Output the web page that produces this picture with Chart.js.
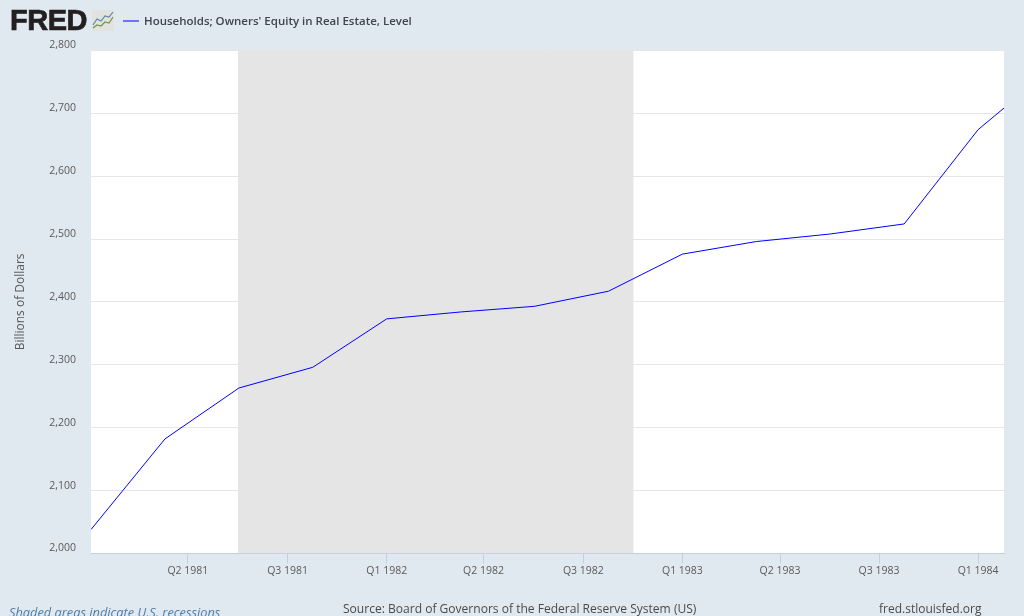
<!DOCTYPE html>
<html lang="en">
<head>
  <meta charset="UTF-8">
  <title>Households; Owners' Equity in Real Estate, Level</title>
  <script src="https://cdn.jsdelivr.net/npm/chart.js"></script>
  <style>
    html, body { margin: 0; padding: 0; width: 1024px; height: 616px; overflow: hidden; background: #e1e9f0; }
    body { position: relative; font-family: "Open Sans", sans-serif; }
    #chart { position: absolute; left: 0; top: 0; }
    .txt { position: absolute; white-space: nowrap; }
    #logo { left: 10px; top: 0px; font-family: "Liberation Sans", sans-serif; font-size: 29px; line-height: 41px; font-weight: 700; color: #231f20; letter-spacing: -0.5px; -webkit-text-stroke: 0.7px #231f20; }
    #icon { position: absolute; left: 92px; top: 10px; }
    #swatch { position: absolute; left: 123px; top: 20px; width: 16px; height: 2px; background: #7070ff; }
    #title { left: 144px; top: 12px; font-size: 11.5px; line-height: 17px; font-weight: 600; color: #3f4450; }
    #note { left: 9px; top: 604px; font-size: 12.8px; line-height: 16px; font-style: italic; color: #4d7ea8; }
    #source { left: 343px; top: 600px; font-size: 12.05px; line-height: 17px; color: #4a4a4a; }
    #site { left: 879px; top: 600px; font-size: 12px; line-height: 17px; color: #4a4a4a; }
  </style>
</head>
<body>

<canvas id="chart" width="1024" height="616"></canvas>

<div class="txt" id="logo">FRED</div>
<svg id="icon" width="22" height="21" viewBox="0 0 22 21">
  <rect width="22" height="21" rx="2" fill="#e2e2de"/>
  <polyline points="1,18 5,15 9,16 13,12 17,13 21,7" fill="none" stroke="#6f9a4a" stroke-width="1.2"/>
  <polyline points="1,15 5,9 9,11 13,6 17,7 21,2" fill="none" stroke="#5f86a8" stroke-width="1.2"/>
</svg>
<div id="swatch"></div>
<div class="txt" id="title">Households; Owners' Equity in Real Estate, Level</div>
<div class="txt" id="note">Shaded areas indicate U.S. recessions</div>
<div class="txt" id="source">Source: Board of Governors of the Federal Reserve System (US)</div>
<div class="txt" id="site">fred.stlouisfed.org</div>

<script>
// x is counted in quarters since Q1 1981
var quarters = [0, 1, 2, 3, 4, 5, 6, 7, 8, 9, 10, 11, 12, 13];
var equity = [2038, 2182, 2263, 2296, 2373, 2384, 2393, 2417, 2476, 2496, 2508, 2524, 2674, 2772];

var tickPositions = [1.31, 2.66, 4, 5.31, 6.66, 8, 9.32, 10.66, 12];
var tickLabels = ['Q2 1981', 'Q3 1981', 'Q1 1982', 'Q2 1982', 'Q3 1982', 'Q1 1983', 'Q2 1983', 'Q3 1983', 'Q1 1984'];

var recessionX = [1.985, 7.34];
var recessionY = [2800, 2800];

var xMin = 0;
var xMax = 12.35;

const plotBackground = {
  id: 'plotBackground',
  beforeDraw(chart) {
    const a = chart.chartArea;
    const top = Math.floor(a.top);
    chart.ctx.save();
    chart.ctx.fillStyle = '#ffffff';
    chart.ctx.fillRect(a.left, top, a.width, a.bottom - top);
    chart.ctx.restore();
  }
};

new Chart(document.getElementById('chart'), {
  type: 'line',
  data: {
    datasets: [{
      label: "Households; Owners' Equity in Real Estate, Level",
      data: quarters.map((q, i) => ({ x: q, y: equity[i] })),
      borderColor: '#0000ff',
      borderWidth: 1,
      pointRadius: 0,
      tension: 0,
      order: 1
    }, {
      label: 'Recession',
      data: recessionX.map((q, i) => ({ x: q, y: recessionY[i] })),
      borderWidth: 0,
      backgroundColor: '#e5e5e5',
      pointRadius: 0,
      fill: 'start',
      order: 2
    }]
  },
  options: {
    responsive: false,
    animation: false,
    layout: { padding: { left: 0, top: 50.4, right: 20, bottom: 0 } },
    plugins: {
      legend: { display: false },
      tooltip: { enabled: false }
    },
    scales: {
      x: {
        type: 'linear',
        min: xMin,
        max: xMax,
        afterBuildTicks: s => { s.ticks = tickPositions.map(v => ({ value: v })); },
        afterFit: s => { s.height = 62.6; },
        grid: { drawOnChartArea: false, tickColor: '#c0d0e0', tickLength: 10 },
        border: { color: '#c0d0e0' },
        ticks: {
          autoSkip: false,
          maxRotation: 0,
          padding: 1,
          color: '#5a5a5a',
          font: { family: '"Open Sans"', size: 10.5 },
          callback: (v, i) => tickLabels[i]
        }
      },
      y: {
        min: 2000,
        max: 2800,
        afterFit: s => { s.width = 91; },
        grid: { color: '#e6e6e6', drawTicks: false },
        border: { display: false },
        title: {
          display: true,
          text: 'Billions of Dollars',
          color: '#5a5a5a',
          font: { family: '"Open Sans"', size: 12, weight: 'normal' },
          padding: { top: 13, bottom: 0 }
        },
        ticks: {
          stepSize: 100,
          padding: 15,
          labelOffset: -5,
          color: '#5a5a5a',
          font: { family: '"Open Sans"', size: 10.5 },
          callback: v => v.toLocaleString('en-US')
        }
      }
    }
  },
  plugins: [plotBackground]
});
</script>
</body>
</html>
